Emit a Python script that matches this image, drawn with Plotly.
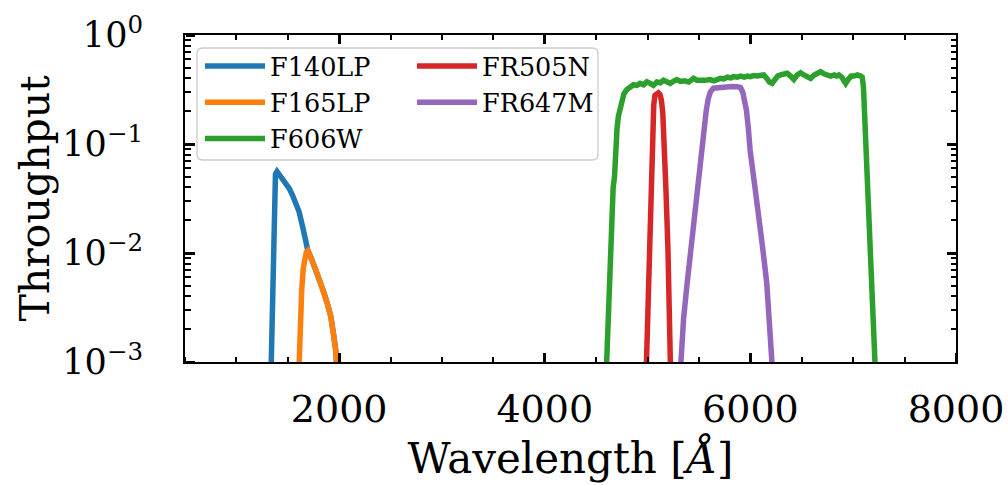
import plotly.graph_objects as go

# ---------------- data ----------------
f140lp_wl = [1330, 1340, 1348, 1355, 1362, 1370, 1380, 1395, 1415, 1450, 1480, 1515, 1545, 1580,
             1610, 1650, 1695, 1730, 1773, 1815, 1854, 1890, 1919, 1945, 1968, 1985]
f140lp_tp = [0.0004, 0.001, 0.0025, 0.006, 0.015, 0.035, 0.053, 0.056, 0.053, 0.048, 0.0436, 0.039,
             0.034, 0.029, 0.0239, 0.0165, 0.0105, 0.0089, 0.00698, 0.0054, 0.00427, 0.0033, 0.0026,
             0.0018, 0.00125, 0.0006]

f165lp_wl = [1600, 1610, 1620, 1635, 1650, 1665, 1680, 1695, 1710, 1730, 1773, 1815, 1854, 1890,
             1919, 1945, 1968, 1985]
f165lp_tp = [0.0005, 0.0012, 0.0022, 0.0045, 0.0072, 0.0092, 0.0102, 0.0105, 0.0098, 0.0089, 0.00698,
             0.0054, 0.00427, 0.0033, 0.0026, 0.0018, 0.00125, 0.0006]

f606w_wl = [4590, 4600, 4628, 4651, 4665, 4678, 4690, 4703, 4716, 4732, 4748, 4770, 4797, 4830, 4862,
            4895, 4927, 4960, 4992, 5025, 5057, 5090, 5125, 5155, 5190, 5220, 5250, 5285, 5320, 5360,
            5400, 5447, 5480, 5510, 5545, 5577, 5610, 5645, 5680, 5707, 5740, 5775, 5810, 5837, 5870,
            5905, 5940, 5970, 6000, 6032, 6065, 6100, 6130, 6160, 6185, 6211, 6240, 6265, 6293, 6325,
            6358, 6390, 6423, 6455, 6488, 6520, 6555, 6585, 6620, 6650, 6683, 6715, 6750, 6780, 6815,
            6840, 6862, 6890, 6910, 6927, 6950, 6980, 7008, 7040, 7073, 7088, 7100, 7110, 7120, 7130,
            7140, 7155, 7170, 7187, 7212, 7225]
f606w_tp = [0.0005, 0.001, 0.0053, 0.0215, 0.04, 0.05, 0.1, 0.14, 0.18, 0.21, 0.25, 0.29, 0.315, 0.33,
            0.35, 0.345, 0.36, 0.35, 0.373, 0.36, 0.345, 0.37, 0.365, 0.385, 0.37, 0.36, 0.375, 0.39,
            0.375, 0.38, 0.37, 0.40, 0.385, 0.39, 0.385, 0.386, 0.39, 0.38, 0.395, 0.40, 0.395, 0.41,
            0.405, 0.415, 0.41, 0.42, 0.41, 0.42, 0.415, 0.425, 0.42, 0.43, 0.43, 0.40, 0.37, 0.36, 0.40,
            0.42, 0.43, 0.44, 0.445, 0.42, 0.39, 0.43, 0.45, 0.43, 0.42, 0.40, 0.43, 0.44, 0.46, 0.44,
            0.43, 0.42, 0.43, 0.42, 0.43, 0.41, 0.38, 0.36, 0.39, 0.42, 0.42, 0.43, 0.42, 0.41, 0.33,
            0.2, 0.12, 0.07, 0.044, 0.0215, 0.0132, 0.0053, 0.0013, 0.0005]

fr505n_wl = [4980, 4988, 5000, 5011, 5025, 5039, 5050, 5060, 5072, 5090, 5105, 5120, 5135, 5148, 5158,
             5166, 5180, 5198, 5210, 5225]
fr505n_tp = [0.0005, 0.001, 0.0035, 0.0107, 0.033, 0.088, 0.15, 0.23, 0.28, 0.295, 0.295, 0.285, 0.25,
             0.19, 0.13, 0.088, 0.035, 0.0107, 0.004, 0.0007]

fr647m_wl = [5310, 5322, 5350, 5385, 5420, 5459, 5495, 5523, 5545, 5571, 5590, 5610, 5640, 5700, 5760,
             5820, 5870, 5903, 5925, 5945, 5961, 5980, 5997, 6040, 6086, 6120, 6159, 6208, 6220]
fr647m_tp = [0.0006, 0.001, 0.0025, 0.0053, 0.011, 0.0215, 0.045, 0.088, 0.14, 0.205, 0.26, 0.30,
             0.325, 0.332, 0.335, 0.337, 0.336, 0.33, 0.30, 0.25, 0.205, 0.14, 0.088, 0.043, 0.0215,
             0.011, 0.0053, 0.001, 0.0007]

names = ["F140LP", "F165LP", "F606W", "FR505N", "FR647M"]
x_ticks = [2000, 4000, 6000, 8000]
y_ticks = [1, 0.1, 0.01, 0.001]
y_ticktext = ["10<sup>0</sup>", "10<sup>\u22121</sup>", "10<sup>\u22122</sup>", "10<sup>\u22123</sup>"]
x_title = "Wavelength [<i>\u00c5</i>]"
y_title = "Throughput"

# ---------------- figure ----------------
W, H = 1008, 485
ML, MR, MT, MB = 185, 52, 35, 123
FONT = "DejaVu Serif"
pw, ph = W - ML - MR, H - MT - MB

colors = ["#1f77b4", "#ff7f0e", "#2ca02c", "#d62728", "#9467bd"]
legends = ["legend", "legend", "legend", "legend2", "legend2"]
wls = [f140lp_wl, f165lp_wl, f606w_wl, fr505n_wl, fr647m_wl]
tps = [f140lp_tp, f165lp_tp, f606w_tp, fr505n_tp, fr647m_tp]

fig = go.Figure()
for name, wl, tp, c, lg in zip(names, wls, tps, colors, legends):
    fig.add_trace(go.Scatter(x=wl, y=tp, mode="lines", name=name,
                             line=dict(color=c, width=5.5), legend=lg))
# empty traces so the tick-only frame axes get drawn
fig.add_trace(go.Scatter(x=[], y=[], xaxis="x2", yaxis="y2", showlegend=False, hoverinfo="skip"))
fig.add_trace(go.Scatter(x=[], y=[], xaxis="x3", yaxis="y3", showlegend=False, hoverinfo="skip"))

minor_y = [m * 10.0 ** e for e in (-3, -2, -1) for m in range(2, 10)]


def tick_style(direction):
    return dict(ticks=direction, tickcolor="black", tickwidth=2.5, ticklen=9,
                showgrid=False, zeroline=False, layer="above traces")


def x_minor(direction):
    return dict(tickmode="linear", tick0=0, dtick=500, ticks=direction, ticklen=5,
                tickwidth=1.5, tickcolor="black", showgrid=False)


def y_minor(direction):
    return dict(tickmode="array", tickvals=minor_y, ticks=direction, ticklen=5,
                tickwidth=1.5, tickcolor="black", showgrid=False)


def x_tick_axis(direction):
    return dict(matches="x", range=[500, 8000], tickmode="array", tickvals=x_ticks,
                minor=x_minor(direction), showticklabels=False, showline=False,
                **tick_style(direction))


def y_tick_axis(direction):
    return dict(type="log", range=[-3, 0], tickmode="array", tickvals=y_ticks,
                minor=y_minor(direction), showticklabels=False, showline=False,
                **tick_style(direction))


fig.update_layout(
    xaxis=dict(range=[500, 8000], tickmode="array", tickvals=x_ticks, minor=x_minor("inside"),
               showline=True, linecolor="black", linewidth=2, mirror=True,
               tickfont=dict(family=FONT, size=38, color="black"), ticklabelstandoff=12,
               title=dict(text=x_title, standoff=14,
                          font=dict(family=FONT, size=42, color="black")),
               **tick_style("inside")),
    yaxis=dict(type="log", range=[-3, 0], tickmode="array", tickvals=y_ticks, ticktext=y_ticktext,
               minor=y_minor("inside"), showline=True, linecolor="black", linewidth=2, mirror=True,
               tickfont=dict(family=FONT, size=35, color="black"), ticklabelstandoff=33,
               **tick_style("inside")),
    # top and right frame ticks (pointing into the plot)
    xaxis2=dict(overlaying="x", side="top", **x_tick_axis("inside")),
    yaxis2=dict(overlaying="y", side="right", **y_tick_axis("inside")),
    # bottom and left frame ticks: free axes on the frame edge, ticks drawn toward the plot
    xaxis3=dict(overlaying="x", anchor="free", position=0, side="top", **x_tick_axis("outside")),
    yaxis3=dict(overlaying="y", anchor="free", position=0, side="right", **y_tick_axis("outside")),
)

# y-axis title placed as rotated text beside the tick labels
fig.add_annotation(text=y_title, textangle=-90, xref="paper", yref="paper",
                   x=(34 - ML) / pw, y=0.5, xanchor="center", yanchor="middle", showarrow=False,
                   font=dict(family=FONT, size=41, color="black"))

bx0, bx1 = 12 / pw, 413 / pw
by0, by1 = 1 - 125 / ph, 1 - 13 / ph
rx, ry = 6 / pw, 6 / ph
box = (f"M {bx0+rx},{by1} L {bx1-rx},{by1} Q {bx1},{by1} {bx1},{by1-ry} "
       f"L {bx1},{by0+ry} Q {bx1},{by0} {bx1-rx},{by0} L {bx0+rx},{by0} "
       f"Q {bx0},{by0} {bx0},{by0+ry} L {bx0},{by1-ry} Q {bx0},{by1} {bx0+rx},{by1} Z")
fig.add_shape(type="path", path=box, xref="paper", yref="paper",
              line=dict(color="#cccccc", width=1.3), fillcolor="rgba(255,255,255,0.8)", layer="below")

leg_common = dict(xanchor="left", yanchor="top", bgcolor="rgba(0,0,0,0)", borderwidth=0,
                  font=dict(family=FONT, size=25.5, color="black"), tracegroupgap=0,
                  orientation="v", itemwidth=60)
fig.update_layout(
    width=W, height=H,
    margin=dict(l=ML, r=MR, t=MT, b=MB, autoexpand=False),
    paper_bgcolor="white", plot_bgcolor="white",
    font=dict(family=FONT, color="black"),
    legend=dict(x=15 / pw, y=1 - 8 / ph, **leg_common),
    legend2=dict(x=227 / pw, y=1 - 8 / ph, **leg_common),
    showlegend=True,
)

fig.write_html("out.html")
